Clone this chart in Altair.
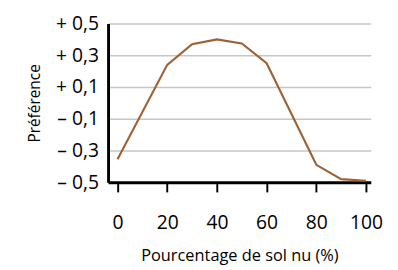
import altair as alt
import pandas as pd

x_vals = [0, 20, 30, 40, 50, 60, 80, 90, 100]
y_vals = [-0.355, 0.24, 0.37, 0.40, 0.375, 0.25, -0.39, -0.48, -0.49]
y_ticks = [-0.5, -0.3, -0.1, 0.1, 0.3, 0.5]
y_labels = ["– 0,5", "– 0,3", "– 0,1", "+ 0,1", "+ 0,3", "+ 0,5"]
x_ticks = [0, 20, 40, 60, 80, 100]

df = pd.DataFrame({"x": x_vals, "y": y_vals})

label_expr = "[" + ",".join(f"'{l}'" for l in y_labels) + "][indexof([" + ",".join(str(v) for v in y_ticks) + "], datum.value)]"

FONT = "Open Sans"

chart = alt.Chart(df).mark_line(color="#9c6234", strokeWidth=2.2).encode(
    x=alt.X("x:Q",
            scale=alt.Scale(domain=[-3.8, 101.9], nice=False, zero=False),
            axis=alt.Axis(values=x_ticks, title="Pourcentage de sol nu (%)",
                          grid=False, domainColor="black", domainWidth=3,
                          ticks=True, tickColor="black", tickWidth=2, tickSize=10,
                          labelPadding=22, labelFontSize=20, labelColor="black",
                          labelFont=FONT, titleFont=FONT, titleFontSize=17,
                          titleFontWeight="normal", titleColor="black",
                          titlePadding=16, labelFlush=False)),
    y=alt.Y("y:Q",
            scale=alt.Scale(domain=[-0.5, 0.5], nice=False, zero=False),
            axis=alt.Axis(values=y_ticks, labelExpr=label_expr, title="Préférence",
                          grid=True, gridColor="#c6c6c6", gridWidth=1.5,
                          domainColor="black", domainWidth=3, ticks=False,
                          labelPadding=10, labelFontSize=20, labelColor="black",
                          labelFont=FONT, titleFont=FONT, titleFontSize=16,
                          titleFontWeight="normal", titleColor="black",
                          titlePadding=14, labelFlush=False)),
).properties(
    width=273, height=165,
    autosize=alt.AutoSizeParams(type="none"),
    padding={"left": 104, "top": 11, "right": 20, "bottom": 86},
).configure_view(stroke=None)

chart.save("out.html", embed_options={"renderer": "svg", "actions": False})
